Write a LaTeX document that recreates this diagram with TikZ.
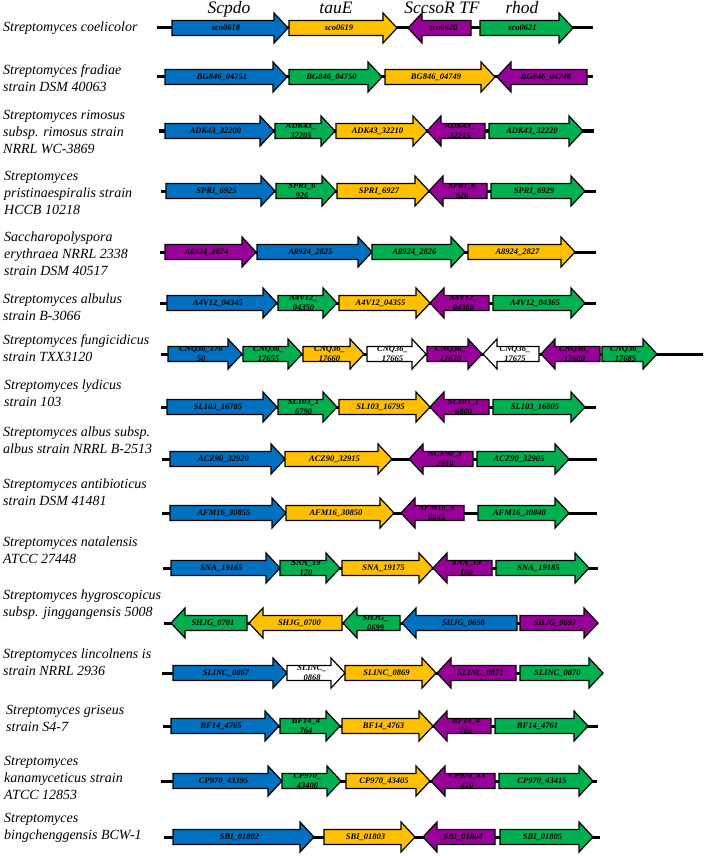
\documentclass[tikz,border=0pt]{standalone}
\usepackage{fontspec}
\setmainfont{Liberation Serif}
\definecolor{gblue}{RGB}{0,112,192}
\definecolor{gyellow}{RGB}{255,192,0}
\definecolor{ggreen}{RGB}{0,176,80}
\definecolor{gpurple}{RGB}{153,0,153}
\definecolor{gwhite}{RGB}{255,255,255}
\tikzset{
  genebox/.style={draw=black,line width=1.2pt,line join=miter},
  genelab/.style={font=\fontsize{8.5}{10}\selectfont\bfseries\itshape,align=center,inner sep=0pt,text=black},
  backbone/.style={line width=3pt,black},
  species/.style={font=\fontsize{14}{17}\selectfont\itshape,align=left,anchor=west,inner sep=0pt},
  header/.style={font=\fontsize{17.5}{19}\selectfont\itshape,anchor=base,inner sep=0pt}
}
% rightward gene: tail x1, tip x2, y, colour, label, name
\newcommand\gR[6]{%
  \draw[genebox,fill=#4] ({#1},{#3-7.5}) -- ({#2-14},{#3-7.5}) -- ({#2-14},{#3-15}) -- ({#2},{#3}) -- ({#2-14},{#3+15}) -- ({#2-14},{#3+7.5}) -- ({#1},{#3+7.5}) -- cycle;
  \begin{scope}
    \clip ({#1},{#3-7.5}) -- ({#2-14},{#3-7.5}) -- ({#2-14},{#3-15}) -- ({#2},{#3}) -- ({#2-14},{#3+15}) -- ({#2-14},{#3+7.5}) -- ({#1},{#3+7.5}) -- cycle;
    \node[genelab] (#6) at ({(#1+#2)/2-4},{#3}) {#5};
  \end{scope}}
% leftward gene: tip x1, tail x2, y, colour, label, name
\newcommand\gL[6]{%
  \draw[genebox,fill=#4] ({#2},{#3-7.5}) -- ({#1+14},{#3-7.5}) -- ({#1+14},{#3-15}) -- ({#1},{#3}) -- ({#1+14},{#3+15}) -- ({#1+14},{#3+7.5}) -- ({#2},{#3+7.5}) -- cycle;
  \begin{scope}
    \clip ({#2},{#3-7.5}) -- ({#1+14},{#3-7.5}) -- ({#1+14},{#3-15}) -- ({#1},{#3}) -- ({#1+14},{#3+15}) -- ({#1+14},{#3+7.5}) -- ({#2},{#3+7.5}) -- cycle;
    \node[genelab] (#6) at ({(#1+#2)/2+4},{#3}) {#5};
  \end{scope}}
\begin{document}
\begin{tikzpicture}[x=1pt,y=-1pt]
\useasboundingbox (0,0) rectangle (709,856);
\fill[white] (0,0) rectangle (709,856);

% headers
\node[header] (hScpdo) at (229,14) {Scpdo};
\node[header] (htauE) at (336,14) {tauE};
\node[header] (hSccsoR) at (442,14) {SccsoR TF};
\node[header] (hrhod) at (522,14) {rhod};

% species labels
\node[species] (s1) at (3,28) {Streptomyces coelicolor};
\node[species] (s2) at (3,78) {Streptomyces fradiae\\strain DSM 40063};
\node[species] (s3) at (3,132) {Streptomyces rimosus\\subsp. rimosus strain\\NRRL WC-3869};
\node[species] (s4) at (4,193) {Streptomyces\\pristinaespiralis strain\\HCCB 10218};
\node[species] (s5) at (4,254) {Saccharopolyspora\\erythraea NRRL 2338\\strain DSM 40517};
\node[species] (s6) at (3,307) {Streptomyces albulus\\strain B-3066};
\node[species] (s7) at (3,348) {Streptomyces fungicidicus\\strain TXX3120};
\node[species] (s8) at (4,393) {Streptomyces lydicus\\strain 103};
\node[species] (s9) at (3,440) {Streptomyces albus subsp.\\albus strain NRRL B-2513};
\node[species] (s10) at (3,492) {Streptomyces antibioticus\\strain DSM 41481};
\node[species] (s11) at (3,550) {Streptomyces natalensis\\ATCC 27448};
\node[species] (s12) at (3,605) {Streptomyces hygroscopicus\\subsp. jinggangensis 5008};
\node[species] (s13) at (3,662) {Streptomyces lincolnens is\\strain NRRL 2936};
\node[species] (s14) at (6,718) {Streptomyces griseus\\strain S4-7};
\node[species] (s15) at (4,778) {Streptomyces\\kanamyceticus strain\\ATCC 12853};
\node[species] (s16) at (4,828) {Streptomyces\\bingchenggensis BCW-1};

% backbones
\coordinate (b1a) at (157,28);  \coordinate (b1b) at (593,28);
\coordinate (b2a) at (157,77);  \coordinate (b2b) at (593,77);
\coordinate (b3a) at (159,131); \coordinate (b3b) at (594,131);
\coordinate (b4a) at (161,191); \coordinate (b4b) at (596,191);
\coordinate (b5a) at (160,252); \coordinate (b5b) at (596,252);
\coordinate (b6a) at (160,303); \coordinate (b6b) at (596,303);
\coordinate (b7a) at (161,354); \coordinate (b7b) at (703,354);
\coordinate (b8a) at (161,407); \coordinate (b8b) at (596,407);
\coordinate (b9a) at (162,459); \coordinate (b9b) at (597,459);
\coordinate (b10a) at (162,513); \coordinate (b10b) at (597,513);
\coordinate (b11a) at (163,568); \coordinate (b11b) at (598,568);
\coordinate (b12a) at (164,623); \coordinate (b12b) at (598,623);
\coordinate (b13a) at (162,673); \coordinate (b13b) at (603,673);
\coordinate (b14a) at (163,726); \coordinate (b14b) at (598,726);
\coordinate (b15a) at (161,781); \coordinate (b15b) at (597,781);
\coordinate (b16a) at (164,837); \coordinate (b16b) at (600,837);
\foreach \r in {1,...,16} {\draw[backbone] (b\r a) -- (b\r b);}

% row 1
\gR{172}{288}{28}{gblue}{sco0618}{g1a}
\gR{289}{397}{28}{gyellow}{sco0619}{g1b}
\gL{408}{471}{28}{gpurple}{sco0620}{g1c}
\gR{480}{573}{28}{ggreen}{sco0621}{g1d}
% row 2
\gR{165}{287}{77}{gblue}{BG846\_04751}{g2a}
\gR{289}{382}{77}{ggreen}{BG846\_04750}{g2b}
\gR{385}{495}{77}{gyellow}{BG846\_04749}{g2c}
\gL{497}{587}{77}{gpurple}{BG846\_04748}{g2d}
% row 3
\gR{165}{274}{131}{gblue}{ADK43\_32200}{g3a}
\gR{275}{335}{131}{ggreen}{ADK43\_\\32205}{g3b}
\gR{336}{427}{131}{gyellow}{ADK43\_32210}{g3c}
\gL{427}{485}{131}{gpurple}{ADK43\_\\32215}{g3d}
\gR{489}{583}{131}{ggreen}{ADK43\_32220}{g3e}
% row 4
\gR{166}{275}{191}{gblue}{SPRI\_6925}{g4a}
\gR{276}{336}{191}{ggreen}{SPRI\_6\\926}{g4b}
\gR{337}{429}{191}{gyellow}{SPRI\_6927}{g4c}
\gL{429}{487}{191}{gpurple}{SPRI\_6\\928}{g4d}
\gR{491}{585}{191}{ggreen}{SPRI\_6929}{g4e}
% row 5
\gR{165}{256}{252}{gpurple}{A8924\_2824}{g5a}
\gR{257}{372}{252}{gblue}{A8924\_2825}{g5b}
\gR{372}{465}{252}{ggreen}{A8924\_2826}{g5c}
\gR{468}{575}{252}{gyellow}{A8924\_2827}{g5d}
% row 6
\gR{167}{277}{303}{gblue}{A4V12\_04345}{g6a}
\gR{278}{337}{303}{ggreen}{A4V12\_\\04350}{g6b}
\gR{339}{430}{303}{gyellow}{A4V12\_04355}{g6c}
\gL{430}{489}{303}{gpurple}{A4V12\_\\04360}{g6d}
\gR{493}{585}{303}{ggreen}{A4V12\_04365}{g6e}
% row 7
\gR{168}{242}{354}{gblue}{CNQ36\_176\\50}{g7a}
\gR{243}{302}{354}{ggreen}{CNQ36\_\\17655}{g7b}
\gR{303}{364}{354}{gyellow}{CNQ36\_\\17660}{g7c}
\gR{367}{426}{354}{gwhite}{CNQ36\_\\17665}{g7d}
\gR{427}{482}{354}{gpurple}{CNQ36\_\\17670}{g7e}
\gL{483}{539}{354}{gwhite}{CNQ36\_\\17675}{g7f}
\gL{541}{600}{354}{gpurple}{CNQ36\_\\17680}{g7g}
\gR{602}{657}{354}{ggreen}{CNQ36\_\\17685}{g7h}
% row 8
\gR{167}{277}{407}{gblue}{SL103\_16785}{g8a}
\gR{278}{337}{407}{ggreen}{SL103\_1\\6790}{g8b}
\gR{339}{430}{407}{gyellow}{SL103\_16795}{g8c}
\gL{430}{489}{407}{gpurple}{SL103\_1\\6800}{g8d}
\gR{493}{585}{407}{ggreen}{SL103\_16805}{g8e}
% row 9
\gR{170}{285}{459}{gblue}{ACZ90\_32920}{g9a}
\gR{285}{392}{459}{gyellow}{ACZ90\_32915}{g9b}
\gL{409}{473}{459}{gpurple}{ACZ90\_3\\2910}{g9c}
\gR{477}{569}{459}{ggreen}{ACZ90\_32905}{g9d}
% row 10
\gR{170}{286}{513}{gblue}{AFM16\_30855}{g10a}
\gR{286}{394}{513}{gyellow}{AFM16\_30850}{g10b}
\gL{401}{464}{513}{gpurple}{AFM16\_3\\0845}{g10c}
\gR{478}{569}{513}{ggreen}{AFM16\_30840}{g10d}
% row 11
\gR{171}{280}{568}{gblue}{SNA\_19165}{g11a}
\gR{280}{340}{568}{ggreen}{SNA\_19\\170}{g11b}
\gR{342}{433}{568}{gyellow}{SNA\_19175}{g11c}
\gL{433}{492}{568}{gpurple}{SNA\_19\\180}{g11d}
\gR{496}{589}{568}{ggreen}{SNA\_19185}{g11e}
% row 12
\gL{171}{247}{623}{ggreen}{SHJG\_0701}{g12a}
\gL{249}{342}{623}{gyellow}{SHJG\_0700}{g12b}
\gL{343}{400}{623}{ggreen}{SHJG\_\\0699}{g12c}
\gL{402}{517}{623}{gblue}{SHJG\_0698}{g12d}
\gR{520}{598}{623}{gpurple}{SHJG\_0697}{g12e}
% row 13
\gR{173}{287}{673}{gblue}{SLINC\_0867}{g13a}
\gR{287}{345}{673}{gwhite}{SLINC\_\\0868}{g13b}
\gR{345}{436}{673}{gyellow}{SLINC\_0869}{g13c}
\gL{437}{516}{673}{gpurple}{SLINC\_0871}{g13d}
\gR{520}{603}{673}{ggreen}{SLINC\_0870}{g13e}
% row 14
\gR{171}{279}{726}{gblue}{BF14\_4765}{g14a}
\gR{280}{340}{726}{ggreen}{BF14\_4\\764}{g14b}
\gR{342}{433}{726}{gyellow}{BF14\_4763}{g14c}
\gL{433}{491}{726}{gpurple}{BF14\_4\\762}{g14d}
\gR{495}{588}{726}{ggreen}{BF14\_4761}{g14e}
% row 15
\gR{173}{282}{781}{gblue}{CP970\_43395}{g15a}
\gR{282}{341}{781}{ggreen}{CP970\_\\43400}{g15b}
\gR{346}{430}{781}{gyellow}{CP970\_43405}{g15c}
\gL{431}{495}{781}{gpurple}{CP970\_43\\410}{g15d}
\gR{499}{593}{781}{ggreen}{CP970\_43415}{g15e}
% row 16
\gR{173}{314}{837}{gblue}{SBI\_01802}{g16a}
\gR{324}{415}{837}{gyellow}{SBI\_01803}{g16b}
\gL{423}{495}{837}{gpurple}{SBI\_01804}{g16c}
\gR{500}{593}{837}{ggreen}{SBI\_01805}{g16d}
\end{tikzpicture}
\end{document}
